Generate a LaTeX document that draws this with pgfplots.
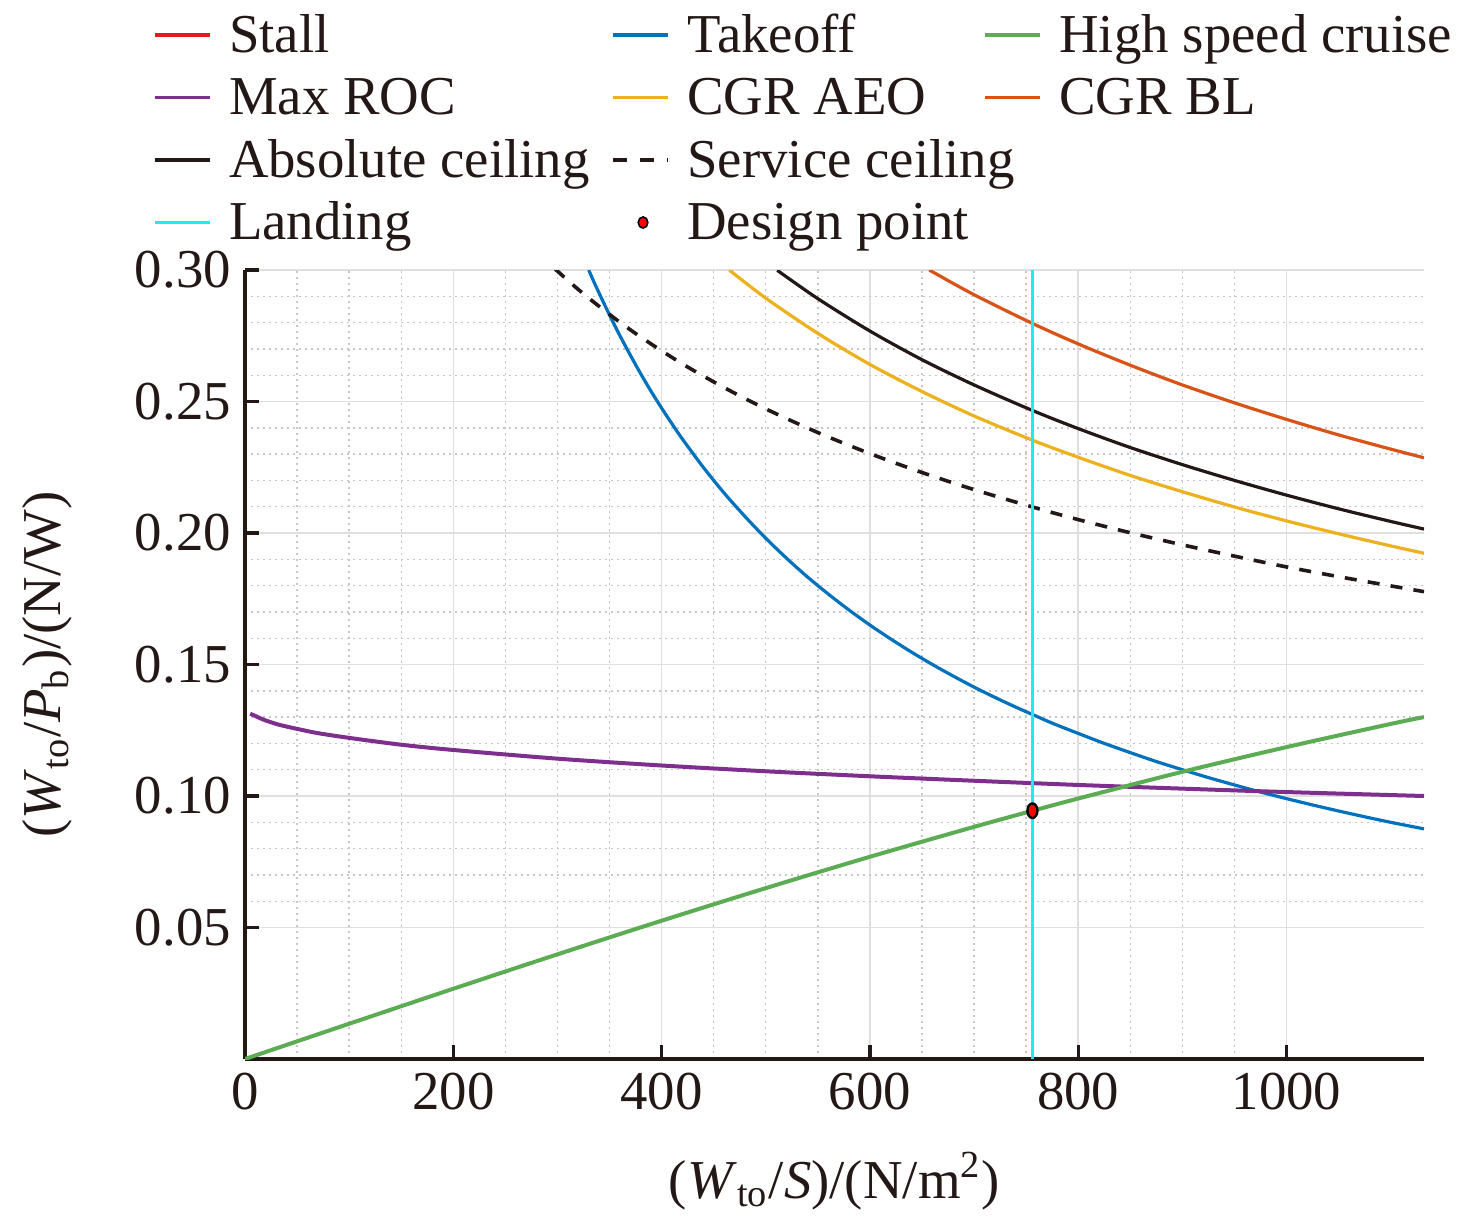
\documentclass[border=0pt]{standalone}
\usepackage{pgfplots}
\pgfplotsset{compat=1.18}
\usepackage{fontspec}
\setmainfont{Liberation Serif}
\definecolor{txt}{RGB}{35,24,21}
\definecolor{stallc}{RGB}{228,26,28}
\definecolor{takeoffc}{RGB}{0,114,189}
\definecolor{hscc}{RGB}{92,172,84}
\definecolor{rocc}{RGB}{126,47,142}
\definecolor{aeoc}{RGB}{237,177,32}
\definecolor{blc}{RGB}{217,83,25}
\definecolor{landc}{RGB}{30,235,240}
\pgfplotsset{
  mylegimg/.style={legend image code/.code={\draw[##1] (0pt,0pt) -- (13.75pt,0pt); \path[draw=none,fill=none] (0pt,0pt) rectangle (18.6pt,0pt);}},
}
\newcommand{\lfont}{\fontsize{13.7}{15}\selectfont}
\begin{document}
\begin{tikzpicture}[every node/.append style={text=txt}]
\useasboundingbox (-61.25pt,-42.75pt) rectangle (307.75pt,264.75pt);
\begin{axis}[
  at={(0,0)}, anchor=south west,
  width=294.75pt, height=197.25pt, scale only axis,
  xmin=0, xmax=1132, ymin=0, ymax=0.3,
  axis x line*=bottom, axis y line*=left,
  axis line style={txt, line width=0.8pt},
  xtick={0,200,400,600,800,1000},
  ytick={0.05,0.1,0.15,0.2,0.25,0.3},
  minor x tick num=3, minor y tick num=4,
  tick align=inside, major tick length=3.5pt, minor tick length=0pt,
  every tick/.style={txt, line width=0.8pt},
  grid=both,
  major grid style={line width=0.4pt, color=gray!25},
  minor grid style={line width=0.35pt, color=gray!45, dash pattern=on 0.6pt off 0.9pt},
  /pgf/number format/assume math mode=true,
  ticklabel style={font=\lfont, text=txt},
  yticklabel style={/pgf/number format/.cd, fixed, fixed zerofill, precision=2},
  xticklabel style={/pgf/number format/.cd, 1000 sep={}},
  xlabel={(\textit{W}\textsubscript{to}/\textit{S})/(N/m\textsuperscript{2})},
  ylabel={(\textit{W}\textsubscript{to}/\textit{P}\textsubscript{b})/(N/W)},
  label style={font=\lfont, text=txt},
  xlabel style={at={(axis description cs:0.5,-0.1546)}, anchor=center},
  ylabel style={at={(axis description cs:-0.168,0.5)}, anchor=center},
  mylegimg,
  legend columns=3,
  legend style={at={(axis description cs:-0.0780,1.327)}, anchor=north west,
    draw=none, fill=none, inner sep=0pt, outer sep=0pt,
    column sep=0pt, row sep=4.125pt,
    nodes={inner sep=0pt, text height=10pt, text depth=1.5pt},
    cells={anchor=west}, font=\lfont},
]
% Takeoff
\addplot[forget plot, takeoffc, line width=0.8pt, smooth] coordinates {
(330,0.3000) (335,0.2955) (340,0.2912) (345,0.2870) (350,0.2829) (355,0.2789)
(360,0.2750) (370,0.2676) (380,0.2605) (390,0.2538) (400,0.2475) (410,0.2415)
(420,0.2357) (440,0.2250) (460,0.2152) (480,0.2063) (500,0.1980) (520,0.1904)
(540,0.1833) (560,0.1768) (580,0.1707) (600,0.1650) (620,0.1597) (640,0.1547)
(660,0.1500) (680,0.1456) (700,0.1414) (720,0.1375) (740,0.1338) (756,0.1310)
(775,0.1277) (800,0.1238) (825,0.1200) (850,0.1165) (875,0.1131) (900,0.1100)
(925,0.1070) (950,0.1042) (975,0.1015) (1000,0.0990) (1025,0.0966) (1050,0.0943)
(1075,0.0921) (1100,0.0900) (1132,0.0875)};
% Max ROC
\addplot[forget plot, rocc, line width=1pt, smooth] coordinates {
(5,0.1313) (10,0.1304) (15,0.1295) (20,0.1287) (30,0.1274) (40,0.1264) (55,0.1251)
(70,0.1239) (100,0.1221) (150,0.1195) (200,0.1175) (300,0.1142) (400,0.1116)
(500,0.1094) (600,0.1075) (700,0.1058) (800,0.1042) (900,0.1028) (1000,0.1015)
(1132,0.1000)};
% High speed cruise
\addplot[forget plot, hscc, line width=1pt, smooth] coordinates {
(0,0) (50,0.00671) (100,0.01341) (200,0.02670) (300,0.03980) (400,0.05258)
(500,0.06497) (600,0.07689) (700,0.08827) (756,0.09437) (800,0.09904)
(900,0.1092) (1000,0.1186) (1100,0.1274) (1132,0.1300)};
% CGR AEO
\addplot[forget plot, aeoc, line width=0.8pt, smooth] coordinates {
(465,0.3000) (500,0.2893) (550,0.2759) (600,0.2641) (650,0.2538) (700,0.2445)
(756,0.2353) (800,0.2288) (850,0.2219) (900,0.2157) (950,0.2099) (1000,0.2046)
(1050,0.1997) (1100,0.1951) (1132,0.1923)};
% CGR BL
\addplot[forget plot, blc, line width=0.8pt, smooth] coordinates {
(657,0.3000) (700,0.2906) (756,0.2797) (800,0.2719) (850,0.2638) (900,0.2563)
(950,0.2495) (1000,0.2432) (1050,0.2373) (1100,0.2319) (1132,0.2286)};
% Absolute ceiling
\addplot[forget plot, txt, line width=0.8pt, smooth] coordinates {
(511,0.2999) (550,0.2891) (600,0.2768) (650,0.2659) (700,0.2563) (756,0.2466)
(800,0.2397) (850,0.2325) (900,0.2260) (950,0.2200) (1000,0.2144) (1050,0.2092)
(1100,0.2044) (1132,0.2015)};
% Service ceiling
\addplot[forget plot, txt, line width=0.9pt, dash pattern=on 3pt off 2.8pt, smooth] coordinates {
(298,0.3003) (320,0.2926) (350,0.2831) (380,0.2745) (420,0.2643) (460,0.2553)
(500,0.2472) (550,0.2382) (600,0.2302) (650,0.2230) (700,0.2165) (756,0.2099)
(800,0.2051) (850,0.2001) (900,0.1955) (950,0.1912) (1000,0.1871) (1050,0.1834)
(1100,0.1799) (1132,0.1777)};
% Landing
\addplot[forget plot, landc, line width=0.8pt] coordinates {(756,0) (756,0.3)};
% Design point
\addplot[forget plot, only marks, mark=*, mark size=1.25pt,
  mark options={fill=red, draw=black, line width=0.6pt, yscale=1.45}] coordinates {(756,0.0944)};
% Legend
\addlegendimage{stallc, line width=0.8pt}\addlegendentry{\makebox[95.6pt][l]{Stall}}
\addlegendimage{takeoffc, line width=0.8pt}\addlegendentry{\makebox[74pt][l]{Takeoff}}
\addlegendimage{hscc, line width=0.8pt}\addlegendentry{High speed cruise}
\addlegendimage{rocc, line width=0.8pt}\addlegendentry{\makebox[95.6pt][l]{Max ROC}}
\addlegendimage{aeoc, line width=0.8pt}\addlegendentry{\makebox[74pt][l]{CGR AEO}}
\addlegendimage{blc, line width=0.8pt}\addlegendentry{CGR BL}
\addlegendimage{txt, line width=0.8pt}\addlegendentry{\makebox[95.6pt][l]{Absolute ceiling}}
\addlegendimage{txt, line width=0.8pt, dash pattern=on 3.5pt off 3.3pt}\addlegendentry{\makebox[74pt][l]{Service ceiling}}
\addlegendimage{empty legend}\addlegendentry{}
\addlegendimage{landc, line width=0.8pt}\addlegendentry{\makebox[95.6pt][l]{Landing}}
\addlegendimage{legend image code/.code={\fill[red, draw=black, line width=0.4pt] (7.5pt,0pt) ellipse (1.2pt and 1.4pt); \path[draw=none,fill=none] (0pt,0pt) rectangle (18.6pt,0pt);}}\addlegendentry{\makebox[74pt][l]{Design point}}
\end{axis}
\end{tikzpicture}
\end{document}
